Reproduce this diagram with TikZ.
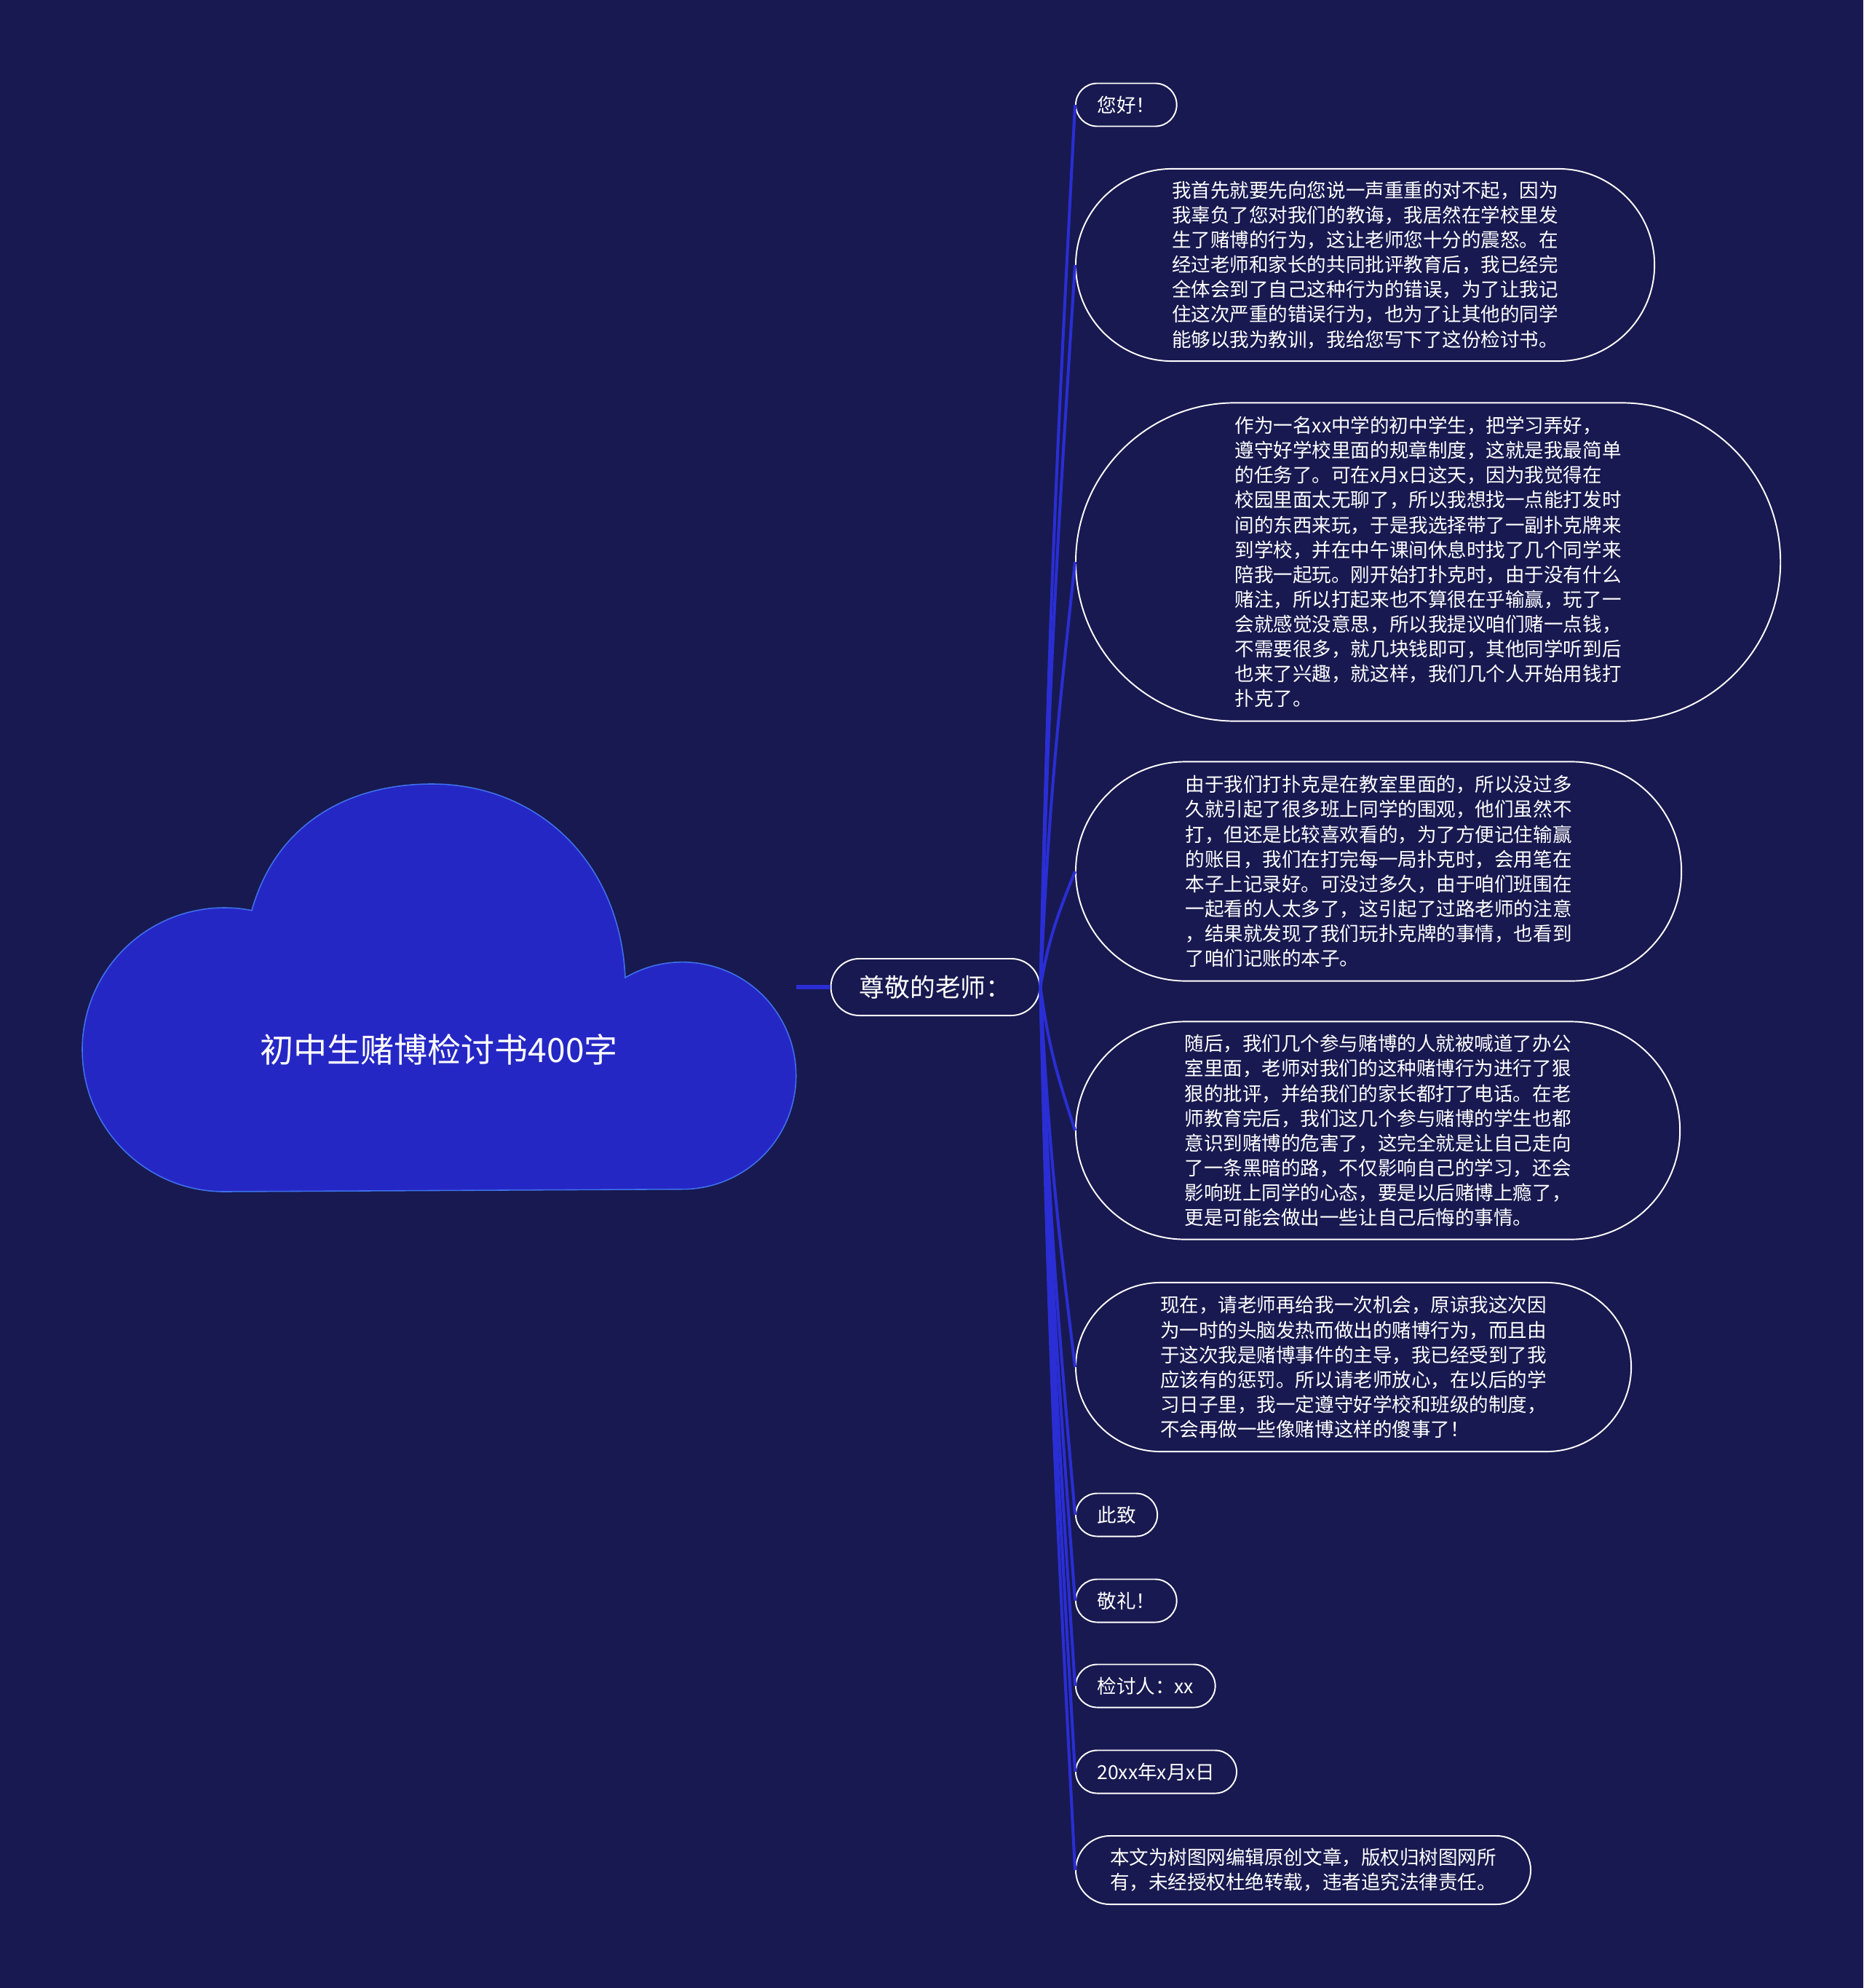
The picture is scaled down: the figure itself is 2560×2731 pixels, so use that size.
\documentclass[tikz,border=0pt]{standalone}
\usepackage{fontspec}
\setmainfont{Noto Sans CJK SC}
\definecolor{bgnavy}{RGB}{24,25,80}
\definecolor{cloudblue}{RGB}{37,39,197}
\definecolor{cloudedge}{RGB}{62,112,236}
\definecolor{linkblue}{RGB}{42,46,212}

\begin{document}
\begin{tikzpicture}[x=0.01cm, y=-0.01cm,
    leaf/.style={rectangle, draw=white, line width=0.55pt, fill=bgnavy, text=white,
      inner xsep=#1, inner ysep=0pt, minimum height=2*#1, rounded corners=#1,
      align=left, anchor=west, font=\fontsize{7.55pt}{9.69pt}\selectfont},
    leaf/.default=0.295cm,
    branch/.style={draw=linkblue, line width=1.15pt}]
  \def\leafx{1477}
  \def\midy{1356}
  % background
  \fill[bgnavy] (0,0) rectangle (2560,2731);

  % cloud
  \fill[cloudblue, draw=cloudedge, line width=0.45pt] (308,1637)
    arc[start angle=90, end angle=281.2, radius=195]
    .. controls (380,1130) and (480,1077) .. (593,1077)
    .. controls (740,1077) and (852,1185) .. (859,1343)
    arc[start angle=-120.3, end angle=90, radius=156] -- cycle;
  \node (root) [text=white, font=\fontsize{13.1pt}{15pt}\selectfont] at (603,1442) {初中生赌博检讨书400字};
  \coordinate (rootR) at (1094,\midy);

  \node (teacher) [rectangle, draw=white, line width=0.55pt, text=white, inner xsep=0.39cm, inner ysep=0pt,
    minimum height=0.78cm, rounded corners=0.39cm, font=\fontsize{9.9pt}{11pt}\selectfont] at (1285,\midy) {尊敬的老师：};
  \draw[linkblue, line width=1.7pt] (rootR) -- (teacher.west);

  \node (leaf1) [leaf] at (\leafx,144) {您好！};
  \node (leaf2) [leaf=1.32cm] at (\leafx,364) {我首先就要先向您说一声重重的对不起，因为\\
    我辜负了您对我们的教诲，我居然在学校里发\\
    生了赌博的行为，这让老师您十分的震怒。在\\
    经过老师和家长的共同批评教育后，我已经完\\
    全体会到了自己这种行为的错误，为了让我记\\
    住这次严重的错误行为，也为了让其他的同学\\
    能够以我为教训，我给您写下了这份检讨书。};
  \node (leaf3) [leaf=2.185cm] at (\leafx,772) {作为一名xx中学的初中学生，把学习弄好，\\
    遵守好学校里面的规章制度，这就是我最简单\\
    的任务了。可在x月x日这天，因为我觉得在\\
    校园里面太无聊了，所以我想找一点能打发时\\
    间的东西来玩，于是我选择带了一副扑克牌来\\
    到学校，并在中午课间休息时找了几个同学来\\
    陪我一起玩。刚开始打扑克时，由于没有什么\\
    赌注，所以打起来也不算很在乎输赢，玩了一\\
    会就感觉没意思，所以我提议咱们赌一点钱，\\
    不需要很多，就几块钱即可，其他同学听到后\\
    也来了兴趣，就这样，我们几个人开始用钱打\\
    扑克了。};
  \node (leaf4) [leaf=1.505cm] at (\leafx,1197) {由于我们打扑克是在教室里面的，所以没过多\\
    久就引起了很多班上同学的围观，他们虽然不\\
    打，但还是比较喜欢看的，为了方便记住输赢\\
    的账目，我们在打完每一局扑克时，会用笔在\\
    本子上记录好。可没过多久，由于咱们班围在\\
    一起看的人太多了，这引起了过路老师的注意\\
    ，结果就发现了我们玩扑克牌的事情，也看到\\
    了咱们记账的本子。};
  \node (leaf5) [leaf=1.495cm] at (\leafx,1553) {随后，我们几个参与赌博的人就被喊道了办公\\
    室里面，老师对我们的这种赌博行为进行了狠\\
    狠的批评，并给我们的家长都打了电话。在老\\
    师教育完后，我们这几个参与赌博的学生也都\\
    意识到赌博的危害了，这完全就是让自己走向\\
    了一条黑暗的路，不仅影响自己的学习，还会\\
    影响班上同学的心态，要是以后赌博上瘾了，\\
    更是可能会做出一些让自己后悔的事情。};
  \node (leaf6) [leaf=1.16cm] at (\leafx,1878) {现在，请老师再给我一次机会，原谅我这次因\\
    为一时的头脑发热而做出的赌博行为，而且由\\
    于这次我是赌博事件的主导，我已经受到了我\\
    应该有的惩罚。所以请老师放心，在以后的学\\
    习日子里，我一定遵守好学校和班级的制度，\\
    不会再做一些像赌博这样的傻事了！};
  \node (leaf7) [leaf] at (\leafx,2081) {此致};
  \node (leaf8) [leaf] at (\leafx,2199) {敬礼！};
  \node (leaf9) [leaf] at (\leafx,2316) {检讨人：xx};
  \node (leaf10) [leaf] at (\leafx,2434) {20xx年x月x日};
  \node (leaf11) [leaf=0.47cm] at (\leafx,2569) {本文为树图网编辑原创文章，版权归树图网所\\
    有，未经授权杜绝转载，违者追究法律责任。};

  \foreach \n/\cy in {1/144, 2/364, 3/772, 4/1197, 5/1553, 6/1878, 7/2081, 8/2199, 9/2316, 10/2434, 11/2569}
    \draw[branch] (teacher.east) .. controls +(12,{0.45*(\cy-\midy)}) and +(-22,{0.35*(\midy-\cy)}) .. (leaf\n.west);
\end{tikzpicture}
\end{document}
